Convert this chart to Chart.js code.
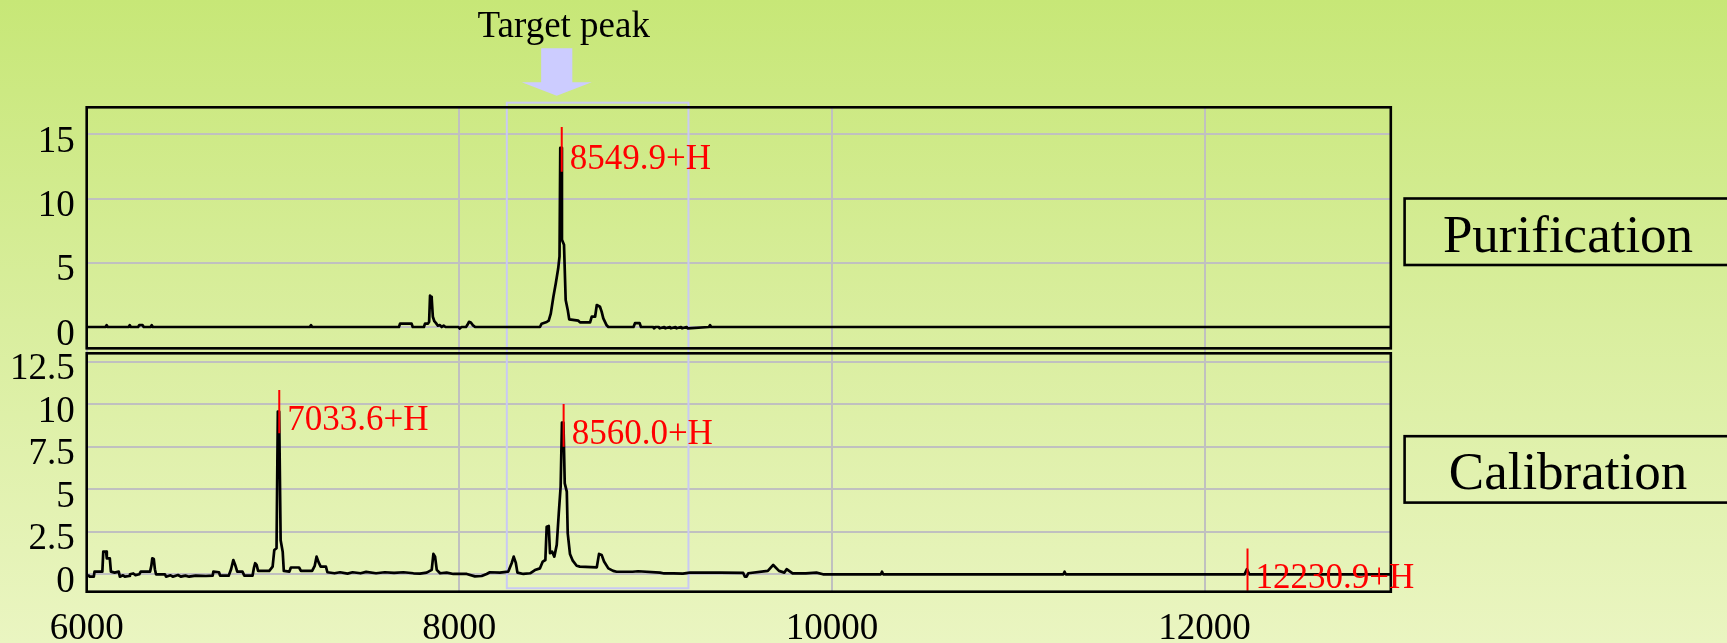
<!DOCTYPE html>
<html><head><meta charset="utf-8">
<script src="https://cdn.jsdelivr.net/npm/chart.js@4"></script>
<style>
html,body{margin:0;padding:0;}
body{width:1727px;height:643px;overflow:hidden;background:linear-gradient(to bottom,#c7e777 0%,#d9ee9e 50%,#eaf5c1 100%);}
canvas{display:block;}
</style></head><body>
<canvas id="c" width="1727" height="643"></canvas>
<script>
// ---- tick values / labels ----
const xTicks = [6000, 8000, 10000, 12000];
const xTickLabels = ['6000', '8000', '10000', '12000'];
const topTicks = [0, 5, 10, 15];
const topTickLabels = ['0', '5', '10', '15'];
const botTicks = [0, 2.5, 5, 7.5, 10, 12.5];
const botTickLabels = ['0', '2.5', '5', '7.5', '10', '12.5'];

// ---- Purification spectrum (m/z, intensity) ----
const purMz = [6000, 6101, 6107, 6113, 6225, 6231, 6237, 6276, 6282, 6300, 6306, 6343, 6349, 6355,
  7198, 7204, 7210, 7676, 7682, 7744, 7750, 7810, 7816, 7832, 7838, 7843, 7849, 7852, 7858, 7866,
  7875, 7885, 7896, 7906, 7916, 7926, 7996, 8002, 8012, 8036, 8043, 8052, 8062, 8072, 8085,
  8433, 8442, 8469, 8480, 8491, 8505, 8518, 8531, 8538, 8542, 8548, 8551, 8562, 8571, 8582, 8590,
  8639, 8648, 8702, 8711, 8729, 8738, 8755, 8764, 8773, 8791, 8800, 8935, 8943, 8968, 8975,
  9040, 9046, 9052, 9070, 9076, 9100, 9106, 9130, 9136, 9160, 9166, 9190, 9196, 9220, 9226,
  9340, 9346, 9352, 13000];
const purInt = [0, 0, 0.15, 0, 0, 0.15, 0, 0, 0.15, 0.15, 0, 0, 0.15, 0,
  0, 0.15, 0, 0, 0.26, 0.26, 0, 0, 0.26, 0.26, 0.4, 2.45, 2.35, 2.2, 0.8, 0.45,
  0.3, 0.1, 0.15, 0, 0.1, 0, 0, -0.12, 0, 0, 0.15, 0.4, 0.35, 0.15, 0,
  0, 0.26, 0.39, 0.5, 1.04, 2.36, 3.4, 4.57, 5.5, 13.95, 13.95, 6.8, 6.4, 2.1, 1.33, 0.6,
  0.49, 0.36, 0.36, 0.8, 0.8, 1.71, 1.58, 1.2, 0.67, 0.13, 0, 0, 0.3, 0.3, 0,
  0, -0.1, 0, 0, -0.1, 0, -0.1, 0, -0.1, 0, -0.1, 0, -0.1, 0, -0.1,
  0, 0.15, 0, 0];

// ---- Calibration spectrum (m/z, intensity) ----
const calMz = [6000, 6012, 6016, 6038, 6042, 6084, 6089, 6104, 6108, 6124, 6130, 6150, 6172, 6178,
  6195, 6205, 6228, 6232, 6250, 6262, 6282, 6290, 6340, 6347, 6352, 6360, 6366, 6372, 6420, 6426,
  6450, 6462, 6490, 6505, 6530, 6550, 6585, 6640, 6676, 6680, 6710, 6716, 6762, 6775, 6787, 6797,
  6808, 6836, 6846, 6890, 6898, 6904, 6912, 6920, 6980, 6998, 7007, 7019, 7026, 7033, 7041, 7052,
  7058, 7088, 7096, 7140, 7150, 7210, 7224, 7234, 7245, 7256, 7284, 7292, 7330, 7360, 7400, 7427,
  7470, 7500, 7553, 7600, 7650, 7700, 7754, 7789, 7825, 7852, 7861, 7870, 7879, 7897, 7932, 7968,
  8040, 8084, 8120, 8147, 8164, 8218, 8263, 8281, 8292, 8303, 8312, 8344, 8380, 8406, 8433, 8448,
  8462, 8469, 8480, 8487, 8498, 8510, 8523, 8534, 8544, 8551, 8559, 8566, 8577, 8582, 8594, 8609,
  8630, 8647, 8738, 8750, 8764, 8777, 8800, 8826, 8844, 8930, 8960, 9077, 9100, 9150, 9200, 9238,
  9300, 9400, 9524, 9533, 9542, 9551, 9656, 9685, 9716, 9745, 9757, 9789, 9860, 9917, 9952,
  10263, 10269, 10275, 11243, 11249, 11255, 12215, 12228, 12240, 13000];
const calInt = [-0.08, -0.08, -0.14, -0.14, 0.16, 0.16, 1.33, 1.33, 0.94, 0.94, 0.16, 0.1, 0.16, -0.14,
  -0.06, -0.14, -0.1, 0, 0.05, -0.05, 0, 0.16, 0.16, 0.5, 0.94, 0.9, 0.3, 0, 0, -0.14,
  -0.06, -0.14, -0.04, -0.14, -0.08, -0.14, -0.08, -0.1, -0.08, 0.16, 0.12, -0.08, -0.08, 0.3, 0.84, 0.55,
  0.16, 0.16, -0.08, -0.08, 0.4, 0.65, 0.55, 0.2, 0.2, 0.45, 1.43, 1.53, 9.57, 9.57, 2.0, 1.33,
  0.2, 0.16, 0.4, 0.4, 0.2, 0.2, 0.5, 1.04, 0.7, 0.45, 0.45, 0.12, 0.06, 0.12, 0.04, 0.12,
  0.06, 0.14, 0.06, 0.12, 0.08, 0.12, 0.06, 0.04, 0.1, 0.26, 1.2, 1.04, 0.26, 0.06, 0.1, 0.02,
  0.02, -0.12, -0.1, 0.02, 0.12, 0.1, 0.16, 0.65, 1.04, 0.69, 0.1, 0.02, 0.06, 0.25, 0.35, 0.75,
  0.84, 2.8, 2.84, 1.24, 1.33, 1.04, 1.73, 3.59, 5.16, 8.92, 8.92, 5.35, 4.86, 2.41, 1.2, 0.8,
  0.5, 0.45, 0.41, 1.2, 1.14, 0.75, 0.35, 0.2, 0.15, 0.15, 0.18, 0.1, 0.05, 0.06, 0.04, 0.1,
  0.1, 0.1, 0.08, -0.14, -0.14, 0.06, 0.2, 0.55, 0.2, 0.1, 0.3, 0.05, 0.05, 0.1, 0,
  0, 0.15, 0, 0, 0.15, 0, 0, 0.3, 0, 0];

// ---- labelled peaks ----
const purPeakMz = [8549.9];
const purPeakLabel = ['8549.9+H'];
const purPeakLow = [12.08];
const purPeakHigh = [15.56];
const calPeakMz = [7033.6, 8560.0, 12230.9];
const calPeakLabel = ['7033.6+H', '8560.0+H', '12230.9+H'];
const calPeakLow = [8.29, 7.5, -0.96];
const calPeakHigh = [10.84, 10.02, 1.51];

// ---- target window (m/z) ----
const targetWindow = [8255, 9230];
const targetArrowMz = 8523;
const panelNames = ['Purification', 'Calibration'];

const FONT = "'Liberation Serif', 'Times New Roman', serif";

function pts(xs, ys) { return xs.map((v, i) => ({x: v, y: ys[i]})); }
function markerPts(mz, lo, hi) {
  const out = [];
  mz.forEach((m, i) => { out.push({x: m, y: lo[i]}, {x: m, y: hi[i]}, {x: m, y: null}); });
  return out;
}

const deco = {
  id: 'deco',
  beforeDatasetsDraw(chart) {
    const {ctx, scales: {x, yTop, yBot}} = chart;
    const l = x.getPixelForValue(targetWindow[0]), r = x.getPixelForValue(targetWindow[1]);
    const t = yTop.getPixelForValue(17.46), b = yBot.getPixelForValue(-0.82);
    ctx.save();
    ctx.strokeStyle = '#c9c9f4';
    ctx.lineWidth = 2;
    ctx.strokeRect(l, t, r - l, b - t);
    ctx.restore();
  },
  afterDatasetsDraw(chart) {
    const {ctx, scales: {x, yTop, yBot}} = chart;
    ctx.save();
    ctx.strokeStyle = '#000';
    ctx.lineWidth = 2.6;
    const tb = yTop.getPixelForValue(-1.66);
    ctx.strokeRect(x.left, yTop.top, x.right - x.left, tb - yTop.top);
    ctx.strokeRect(x.left, yBot.top, x.right - x.left, yBot.bottom - yBot.top);
    // peak labels
    ctx.fillStyle = '#ff0000';
    ctx.font = '35px ' + FONT;
    ctx.textAlign = 'left';
    ctx.textBaseline = 'alphabetic';
    purPeakMz.forEach((m, i) => {
      ctx.fillText(purPeakLabel[i], x.getPixelForValue(m) + 8, yTop.getPixelForValue(purPeakLow[i]) - 3);
    });
    calPeakMz.forEach((m, i) => {
      ctx.fillText(calPeakLabel[i], x.getPixelForValue(m) + 8, yBot.getPixelForValue(calPeakLow[i]) - 3);
    });
    ctx.restore();
  },
  afterDraw(chart) {
    const {ctx, scales: {x}} = chart;
    ctx.save();
    // arrow
    const cx = x.getPixelForValue(targetArrowMz);
    ctx.fillStyle = '#ccccff';
    ctx.beginPath();
    ctx.moveTo(cx - 15.6, 48.3);
    ctx.lineTo(cx + 15.6, 48.3);
    ctx.lineTo(cx + 15.6, 82.3);
    ctx.lineTo(cx + 35, 82.3);
    ctx.lineTo(cx, 95.7);
    ctx.lineTo(cx - 35, 82.3);
    ctx.lineTo(cx - 15.6, 82.3);
    ctx.closePath();
    ctx.fill();
    ctx.fillStyle = '#000';
    ctx.font = '37px ' + FONT;
    ctx.textAlign = 'center';
    ctx.textBaseline = 'alphabetic';
    ctx.fillText('Target peak', cx + 7, 37);
    // panel name boxes
    ctx.strokeStyle = '#000';
    ctx.lineWidth = 2.6;
    ctx.font = '53px ' + FONT;
    const boxes = [[198.5, 265], [436.2, 502.6]];
    boxes.forEach((bx, i) => {
      ctx.strokeRect(1404.6, bx[0], 340, bx[1] - bx[0]);
      ctx.fillText(panelNames[i], 1568, bx[1] - 13.5);
    });
    ctx.restore();
  }
};

const tickFont = {family: FONT, size: 37};
const gridOpt = {color: '#c0c0c0', lineWidth: 2, drawTicks: false};

new Chart(document.getElementById('c'), {
  type: 'line',
  data: {
    datasets: [
      {data: markerPts(purPeakMz, purPeakLow, purPeakHigh), yAxisID: 'yTop', borderColor: '#ff0000', borderWidth: 2, pointRadius: 0, spanGaps: false},
      {data: markerPts(calPeakMz, calPeakLow, calPeakHigh), yAxisID: 'yBot', borderColor: '#ff0000', borderWidth: 2, pointRadius: 0, spanGaps: false},
      {data: pts(purMz, purInt), yAxisID: 'yTop', borderColor: '#000', borderWidth: 2.7, pointRadius: 0, tension: 0, borderJoinStyle: 'round'},
      {data: pts(calMz, calInt), yAxisID: 'yBot', borderColor: '#000', borderWidth: 2.7, pointRadius: 0, tension: 0, borderJoinStyle: 'round'}
    ]
  },
  options: {
    responsive: false,
    animation: false,
    devicePixelRatio: 1,
    layout: {padding: {left: 0, top: 107.3, right: 336.2, bottom: 0}},
    plugins: {legend: {display: false}, tooltip: {enabled: false}},
    scales: {
      x: {
        type: 'linear', min: 6000, max: 13000, bounds: 'data',
        afterBuildTicks: s => { s.ticks = xTicks.map(v => ({value: v})); },
        afterFit: s => { s.height = 51.3; },
        grid: gridOpt, border: {display: false},
        ticks: {padding: 15, font: tickFont, color: '#000', maxRotation: 0, autoSkip: false,
          callback: (v, i) => xTickLabels[i]}
      },
      yTop: {
        type: 'linear', position: 'left', stack: 'spec', stackWeight: 246, weight: 2,
        min: -2.047, max: 17.10, bounds: 'data',
        afterBuildTicks: s => { s.ticks = topTicks.map(v => ({value: v})); },
        afterFit: s => { s.width = 86.7; },
        grid: gridOpt, border: {display: false},
        ticks: {padding: 12, labelOffset: 8, font: tickFont, color: '#000', autoSkip: false,
          callback: (v, i) => topTickLabels[i]}
      },
      yBot: {
        type: 'linear', position: 'left', stack: 'spec', stackWeight: 238.4, weight: 1,
        min: -1.023, max: 12.994, bounds: 'data',
        afterBuildTicks: s => { s.ticks = botTicks.map(v => ({value: v})); },
        afterFit: s => { s.width = 86.7; },
        grid: gridOpt, border: {display: false},
        ticks: {padding: 12, labelOffset: 8, font: tickFont, color: '#000', autoSkip: false,
          callback: (v, i) => botTickLabels[i]}
      }
    }
  },
  plugins: [deco]
});
</script>
</body></html>
